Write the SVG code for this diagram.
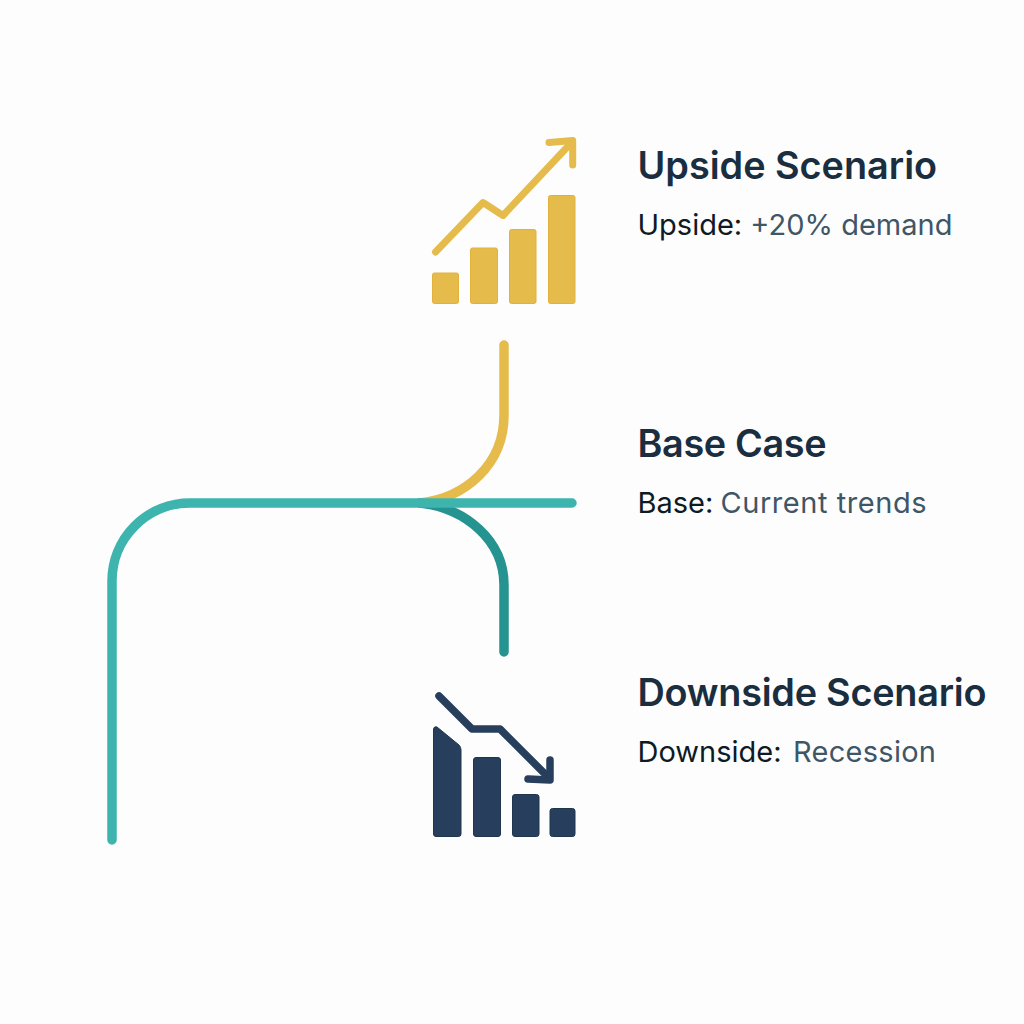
<svg xmlns="http://www.w3.org/2000/svg" width="1024" height="1024" viewBox="0 0 1024 1024">
<style>
.t{font-family:"Inter","Liberation Sans",sans-serif;font-size:37.8px;font-weight:600;fill:#1a2e40}
.s{font-family:"Inter","Liberation Sans",sans-serif;font-size:29px;font-weight:400;fill:#0e1a24}
.a{fill:#3f5666}
.c{fill:none;stroke-width:9.500;stroke-linecap:round;stroke-linejoin:round}
.g{fill:#e5bc4b;stroke:#e2b13c;stroke-width:1}
.n{fill:#273f5c;stroke:#1f3650;stroke-width:1}
.gl{fill:none;stroke:#e5bc4b;stroke-width:7;stroke-linecap:round;stroke-linejoin:round}
.nl{fill:none;stroke:#273f5c;stroke-width:7.500;stroke-linecap:round;stroke-linejoin:round}
</style>
<rect width="1024" height="1024" fill="#fdfdfd"/>
<g id="connectors">
<path class="c" stroke="#e5bc4b" d="M504 345V415C504 465 465 498 420 503"/>
<path class="c" stroke="#25938f" d="M504 652V585C504 540 465 508 420 503"/>
<path class="c" stroke="#3db5ae" d="M112 840V581A78 78 0 0 1 190 503H572"/>
</g>
<g id="upside">
<rect class="g" x="432.500" y="273" width="26" height="30.500" rx="2"/>
<rect class="g" x="470.500" y="248" width="27" height="55.500" rx="2"/>
<rect class="g" x="509.500" y="229.500" width="26.500" height="74" rx="2"/>
<rect class="g" x="548.500" y="195.500" width="26.500" height="108" rx="2"/>
<path class="gl" d="M435.500 252L483 202.500L503 215.500L572 142"/>
<path class="gl" d="M549 142.500L572.700 140.500V165"/>
<text class="t" x="637.500" y="179">Upside Scenario</text>
<text class="s" x="637.500" y="235">Upside: <tspan class="a">+20% demand</tspan></text>
</g>
<g id="base">
<text class="t" x="637.500" y="457" textLength="189">Base Case</text>
<text class="s" x="637.500" y="513">Base: <tspan class="a" x="720.500" textLength="206">Current trends</tspan></text>
</g>
<g id="downside">
<path class="n" d="M433.500 730Q433.500 726 437 727L459 745Q461 747 461 750V834Q461 836.500 458.500 836.500H436Q433.500 836.500 433.500 834Z"/>
<rect class="n" x="473.500" y="757.500" width="27" height="79" rx="2.500"/>
<rect class="n" x="512.500" y="794.500" width="26.500" height="42" rx="2.500"/>
<rect class="n" x="550" y="808.500" width="25" height="28" rx="2.500"/>
<path class="nl" d="M439 696L472 729H500L549 778"/>
<path class="nl" d="M550 760V780L528 779"/>
<text class="t" x="637.500" y="706" textLength="349">Downside Scenario</text>
<text class="s" x="637.500" y="762">Downside: <tspan class="a" x="793" textLength="143">Recession</tspan></text>
</g>
</svg>
